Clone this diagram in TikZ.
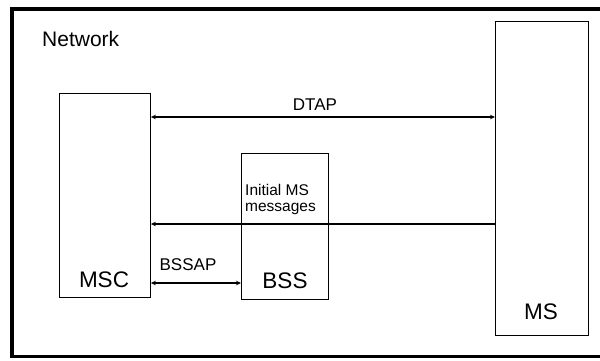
\documentclass[tikz,border=0pt]{standalone}
\usepackage{fontspec}
\setmainfont{Liberation Sans}
\usetikzlibrary{arrows.meta}
\begin{document}
\begin{tikzpicture}[x=1pt,y=-1pt,
  box/.style={draw,line width=0.9pt,inner sep=0pt,anchor=north west},
  big/.style={font=\fontsize{22.5}{26}\selectfont,inner sep=0pt,anchor=base},
  mid/.style={font=\fontsize{17}{20}\selectfont,inner sep=0pt,anchor=base},
  small/.style={font=\fontsize{15.5}{17}\selectfont,inner sep=0pt,anchor=base west},
  conn/.style={line width=1.1pt,-{Stealth[length=5pt,width=4.5pt]}},
  conn2/.style={line width=1.1pt,{Stealth[length=5pt,width=4.5pt]}-{Stealth[length=5pt,width=4.5pt]}}]
\useasboundingbox (0,0) rectangle (600,360);
\fill[white] (0,0) rectangle (600,360);
% frame (its right side lies outside the picture, as in the reference)
\draw[line width=3.4pt] (610,9) -- (12,9) -- (12,356.5) -- (610,356.5);
\node[font=\fontsize{21}{24}\selectfont,inner sep=0pt,anchor=base west] (net) at (42,46.5) {Network};
% boxes
\node[box,minimum width=91pt,minimum height=204pt] (msc) at (59,93) {};
\node[box,minimum width=87pt,minimum height=146pt] (bss) at (241,153) {};
\node[box,minimum width=93pt,minimum height=314pt] (ms) at (495,21) {};
% labels
\node[big] (msclab) at (104,287) {MSC};
\node[big] (bsslab) at (285,288) {BSS};
\node[big] (mslab) at (541,319) {MS};
\node[mid] (dtap) at (315,110) {DTAP};
\node[mid] (bssap) at (188,270) {BSSAP};
\node[small] (ini1) at (245,195) {Initial MS};
\node[small] (ini2) at (245,211.5) {messages};
% connector levels
\coordinate (yd) at (0,117);
\coordinate (yi) at (0,224);
\coordinate (yb) at (0,283);
\draw[conn2] (msc.east |- yd) -- (ms.west |- yd);
\draw[conn] (ms.west |- yi) -- (msc.east |- yi);
\draw[conn2] (msc.east |- yb) -- (bss.west |- yb);
\end{tikzpicture}
\end{document}
